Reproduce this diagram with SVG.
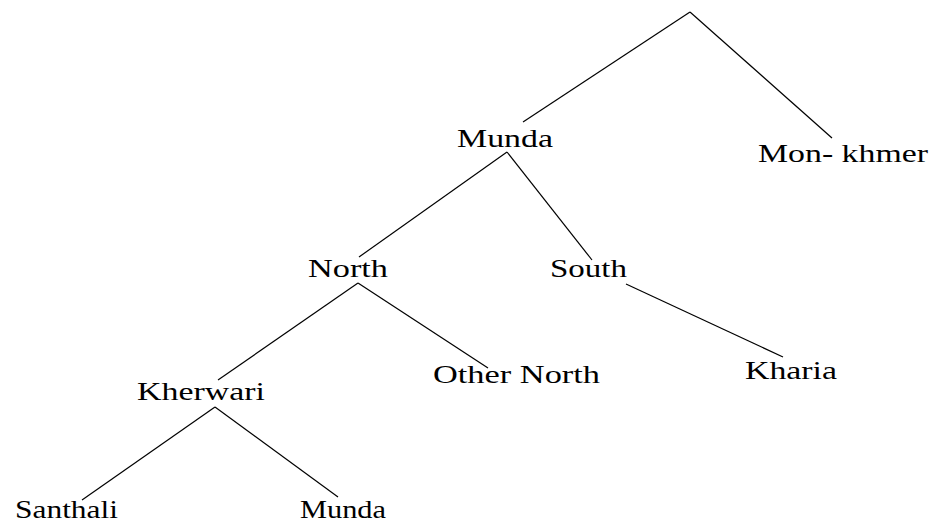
<svg xmlns="http://www.w3.org/2000/svg" width="936" height="524" viewBox="0 0 936 524">
<style>
.e{stroke:#000;stroke-width:1.2;fill:none}
text{font-family:"Liberation Serif","Times New Roman",serif;font-size:25px;fill:#000}
</style>
<rect width="936" height="524" fill="#fff"/>
<g id="connectors">
<line class="e" x1="690" y1="12" x2="523" y2="122"/>
<line class="e" x1="690" y1="12" x2="832" y2="138"/>
<line class="e" x1="507" y1="152" x2="359" y2="257"/>
<line class="e" x1="507" y1="152" x2="592" y2="260"/>
<line class="e" x1="358" y1="283" x2="218" y2="380"/>
<line class="e" x1="358" y1="283" x2="488" y2="368"/>
<line class="e" x1="626" y1="284" x2="783" y2="357"/>
<line class="e" x1="215" y1="407" x2="82" y2="500"/>
<line class="e" x1="215" y1="407" x2="338" y2="497"/>
</g>
<g id="n-munda"><text x="457" y="147" textLength="96" lengthAdjust="spacingAndGlyphs">Munda</text></g>
<g id="n-monkhmer"><text x="758" y="162" textLength="170" lengthAdjust="spacingAndGlyphs">Mon- khmer</text></g>
<g id="n-north"><text x="308" y="277" textLength="80" lengthAdjust="spacingAndGlyphs">North</text></g>
<g id="n-south"><text x="550" y="277" textLength="77" lengthAdjust="spacingAndGlyphs">South</text></g>
<g id="n-othernorth"><text x="433" y="383" textLength="167" lengthAdjust="spacingAndGlyphs">Other North</text></g>
<g id="n-kharia"><text x="745" y="379" textLength="92" lengthAdjust="spacingAndGlyphs">Kharia</text></g>
<g id="n-kherwari"><text x="137" y="400" textLength="128" lengthAdjust="spacingAndGlyphs">Kherwari</text></g>
<g id="n-santhali"><text x="15" y="518" textLength="103" lengthAdjust="spacingAndGlyphs">Santhali</text></g>
<g id="n-munda2"><text x="300" y="518" textLength="86" lengthAdjust="spacingAndGlyphs">Munda</text></g>
</svg>
